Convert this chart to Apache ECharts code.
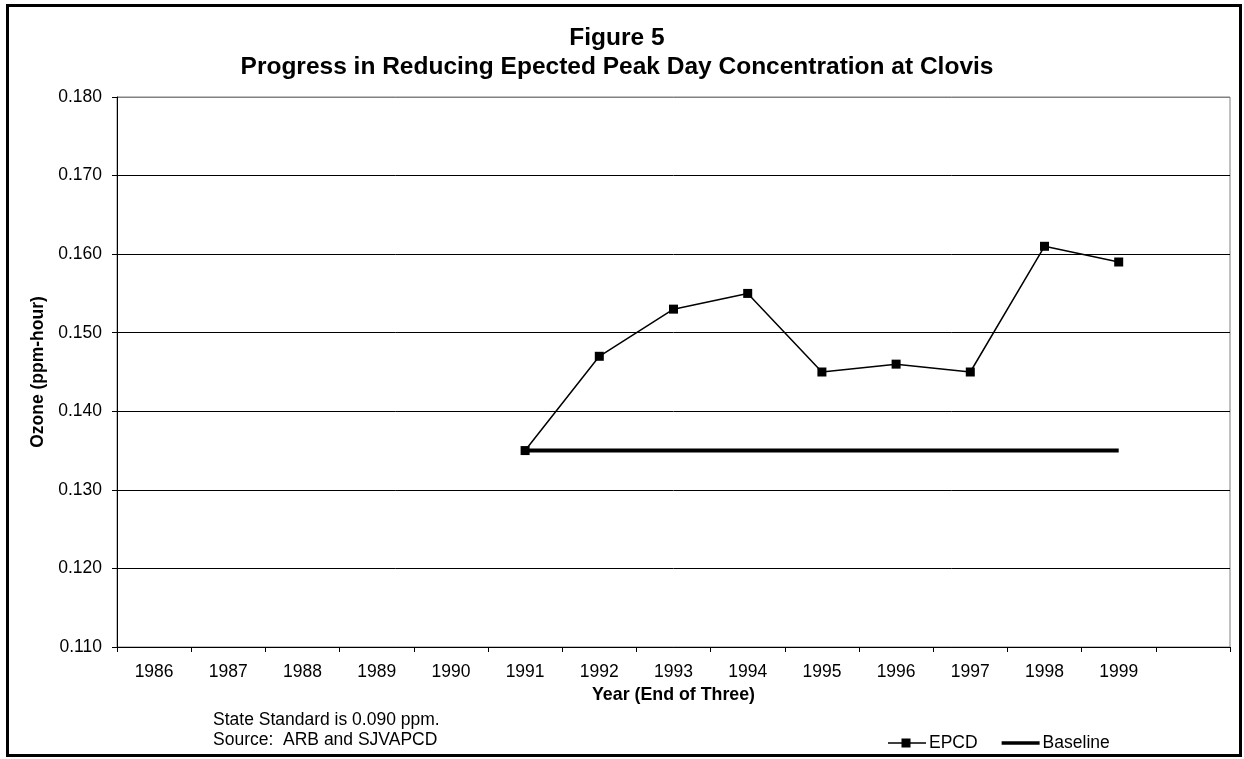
<!DOCTYPE html>
<html>
<head>
<meta charset="utf-8">
<script src="https://cdn.jsdelivr.net/npm/echarts@6/dist/echarts.min.js"></script>
<style>
  html, body { margin: 0; padding: 0; background: #fff; }
  #chart { width: 1244px; height: 759px; }
</style>
</head>
<body>
<div id="chart"></div>
<script>
// Years on the category axis (one trailing empty slot after 1999)
const years = ['1986', '1987', '1988', '1989', '1990', '1991', '1992', '1993',
               '1994', '1995', '1996', '1997', '1998', '1999', ''];
// Expected peak day concentration (ppm-hour), 1991–1999
const epcd = [null, null, null, null, null, 0.135, 0.147, 0.153,
              0.155, 0.145, 0.146, 0.145, 0.161, 0.159, null];
// Baseline level held from 1991 through 1999
const baseline = [null, null, null, null, null, 0.135, 0.135, 0.135,
                  0.135, 0.135, 0.135, 0.135, 0.135, 0.135, null];
const yTicks = { min: 0.110, max: 0.180, step: 0.010 };
const notes = ['State Standard is 0.090 ppm.', 'Source:  ARB and SJVAPCD'];

const FONT = '"Liberation Sans", Arial, sans-serif';
// Legend keys: thin line with a square marker, and a heavy solid line
const ICON_MARKER_LINE = 'path://M0,3.75 L13.5,3.75 L13.5,0 L22.5,0 L22.5,3.75 L38,3.75 L38,5.25 L22.5,5.25 L22.5,9 L13.5,9 L13.5,5.25 L0,5.25 Z';
const ICON_HEAVY_LINE = 'path://M0,0 L42,0 L42,4 L0,4 Z';

const chart = echarts.init(document.getElementById('chart'), null, { renderer: 'canvas' });

chart.setOption({
  backgroundColor: '#fff',
  animation: false,
  title: {
    text: 'Figure 5\nProgress in Reducing Epected Peak Day Concentration at Clovis',
    left: 612,
    top: 19,
    textAlign: 'center',
    textStyle: { fontFamily: FONT, fontSize: 24.5, fontWeight: 'bold', color: '#000', lineHeight: 29 }
  },
  grid: {
    left: 117, right: 14, top: 97, bottom: 112,
    show: true, borderColor: '#808080', borderWidth: 1
  },
  legend: {
    left: 888,
    top: 734,
    padding: 0,
    itemWidth: 38,
    itemHeight: 9,
    itemGap: 24,
    symbolKeepAspect: true,
    textStyle: { fontFamily: FONT, fontSize: 17.5, color: '#000', padding: [0, 0, 0, -2] },
    data: [
      { name: 'EPCD', icon: ICON_MARKER_LINE },
      { name: 'Baseline', icon: ICON_HEAVY_LINE }
    ]
  },
  xAxis: {
    type: 'category',
    data: years,
    boundaryGap: true,
    name: 'Year (End of Three)',
    nameLocation: 'middle',
    nameGap: 38,
    nameTextStyle: { fontFamily: FONT, fontSize: 17.8, fontWeight: 'bold', color: '#000' },
    axisLine: { lineStyle: { color: '#000', width: 1 } },
    axisTick: { show: true, interval: 0, length: 5, inside: false, lineStyle: { color: '#000' } },
    axisLabel: { interval: 0, margin: 16, fontFamily: FONT, fontSize: 17.5, color: '#000' },
    splitLine: { show: false }
  },
  yAxis: {
    type: 'value',
    min: yTicks.min,
    max: yTicks.max,
    interval: yTicks.step,
    name: 'Ozone (ppm-hour)',
    nameLocation: 'middle',
    nameRotate: 90,
    nameGap: 66,
    nameTextStyle: { fontFamily: FONT, fontSize: 17.5, fontWeight: 'bold', color: '#000' },
    axisLine: { show: true, lineStyle: { color: '#000', width: 1 } },
    axisTick: { show: true, length: 5, inside: false, lineStyle: { color: '#000' } },
    axisLabel: {
      margin: 15, fontFamily: FONT, fontSize: 17.5, color: '#000',
      formatter: v => v.toFixed(3)
    },
    splitLine: {
      show: true,
      lineStyle: { color: ['#000', '#000', '#000', '#000', '#000', '#000', '#000', '#808080'], width: 1 }
    }
  },
  series: [
    {
      name: 'EPCD',
      type: 'line',
      data: epcd,
      symbol: 'rect',
      symbolSize: 9,
      connectNulls: false,
      lineStyle: { color: '#000', width: 1.5 },
      itemStyle: { color: '#000' },
      z: 3
    },
    {
      name: 'Baseline',
      type: 'line',
      data: baseline,
      symbol: 'none',
      lineStyle: { color: '#000', width: 4 },
      itemStyle: { color: '#000' },
      z: 2
    }
  ],
  graphic: [
    {
      type: 'rect',
      shape: { x: 7.5, y: 5.5, width: 1233, height: 750 },
      style: { fill: 'none', stroke: '#000', lineWidth: 3 },
      silent: true
    },
    {
      type: 'text',
      left: 213,
      top: 710,
      style: {
        text: notes.join('\n'),
        fontFamily: FONT,
        fontSize: 17.5,
        lineHeight: 20,
        fill: '#000'
      }
    }
  ]
});
</script>
</body>
</html>
